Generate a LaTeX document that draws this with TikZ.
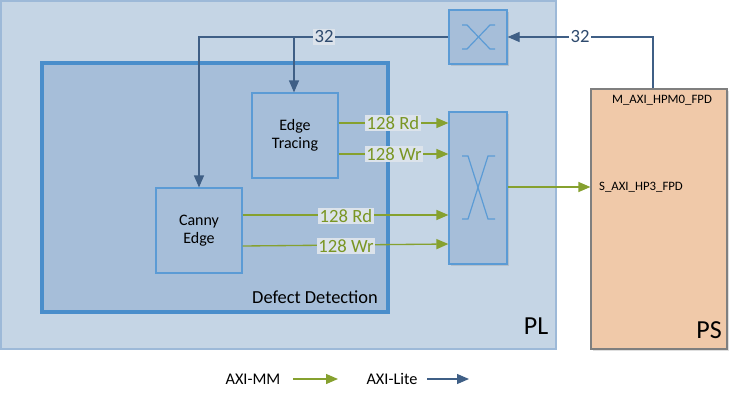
\documentclass[tikz,border=0pt]{standalone}
\usepackage{fontspec}
\setmainfont{Carlito}
\usetikzlibrary{arrows.meta,shadows}
\definecolor{plfill}{HTML}{C5D5E5}
\definecolor{plline}{HTML}{9DB9D8}
\definecolor{infill}{HTML}{A6BED9}
\definecolor{ddline}{HTML}{4A8ECB}
\definecolor{boxline}{HTML}{5B9BD5}
\definecolor{mmgreen}{HTML}{86A12F}
\definecolor{mmtext}{HTML}{7A9624}
\definecolor{litecol}{HTML}{3F5F86}
\definecolor{litetext}{HTML}{2E4A6E}
\definecolor{psfill}{HTML}{F0C9A9}
\definecolor{psline}{HTML}{7F7F7F}
\definecolor{lblbg}{HTML}{DCE3EB}
\tikzset{
  px/.style={font=\fontsize{#1}{1.2*#1}\selectfont},
  shd/.style={drop shadow={opacity=0.25,shadow xshift=1.2pt,shadow yshift=-1.2pt}},
  blk/.style={draw=boxline, line width=0.9pt, fill=infill, inner sep=0pt, align=center, font=\fontsize{12pt}{13.5pt}\selectfont},
  swbox/.style={draw=boxline, line width=0.9pt, fill=infill, inner sep=0pt, shd},
  xsym/.style={draw=boxline, line width=0.9pt},
  mm/.style={draw=mmgreen, line width=1pt, -{Triangle[length=9pt,width=7.5pt]}},
  lite/.style={draw=litecol, line width=0.9pt, -{Triangle[length=9pt,width=7.5pt]}},
  mmlbl/.style={fill=lblbg, text=mmtext, inner sep=1.2pt, font=\fontsize{14pt}{15pt}\selectfont},
  litelbl/.style={fill=lblbg, text=litetext, inner sep=1.2pt, font=\fontsize{14pt}{15pt}\selectfont},
  sz/.style 2 args={minimum width=#1*0.75pt, minimum height=#2*0.75pt},
}
\begin{document}
\begin{tikzpicture}[x=0.75pt,y=-0.75pt]
\useasboundingbox (0,0) rectangle (736,400);
% PL
\node[draw=plline, fill=plfill, line width=0.8pt, sz={555}{348}] (pl) at (278.5,175) {};
\node[font=\fontsize{19.5pt}{21pt}\selectfont] (pltxt) at (536,326) {PL};
% PS
\node[draw=psline, fill=psfill, line width=0.9pt, sz={136}{260}, shd] (ps) at (659,219) {};
\node[font=\fontsize{19.5pt}{21pt}\selectfont] (pstxt) at (709,330) {PS};
\node[font=\fontsize{9.6pt}{11pt}\selectfont] (hpm) at (662,100) {M\_AXI\_HPM0\_FPD};
\node[font=\fontsize{9.6pt}{11pt}\selectfont] (hp3) at (641,187) {S\_AXI\_HP3\_FPD};
% Defect detection
\node[draw=ddline, fill=infill, line width=2.3pt, sz={346}{249}, shd] (dd) at (215,187.5) {};
\node[font=\fontsize{13.8pt}{15pt}\selectfont] (ddtxt) at (315,297) {Defect Detection};
% blocks
\node[blk, sz={86}{85}] (et) at (295,135.5) {Edge\\Tracing};
\node[blk, sz={86}{85}] (ce) at (199,230.5) {Canny\\Edge};
% switches
\node[swbox, sz={58}{54}] (sw1) at (478,37) {};
\draw[xsym] (462,25) -- (467,25) -- (490,49) -- (495,49);
\draw[xsym] (462,49) -- (467,49) -- (490,25) -- (495,25);
\node[swbox, sz={58}{152}] (sw2) at (478,188) {};
\draw[xsym] (462,156) -- (468,156) -- (488,219) -- (495,219);
\draw[xsym] (462,219) -- (468,219) -- (488,156) -- (495,156);
% AXI-Lite connections
\coordinate (pscorner) at (653,37);
\draw[lite] (ps.north -| pscorner) -- (pscorner) -- (sw1.east);
\node[fill=white, text=litetext, inner sep=1.2pt, font=\fontsize{14pt}{15pt}\selectfont] (l32a) at (580,37) {32};
\coordinate (cecorner) at (199,37);
\coordinate (etbranch) at (294,37);
\draw[lite] (sw1.west) -- (cecorner) -- (ce.north);
\draw[lite] (etbranch) -- (et.north -| etbranch);
\node[litelbl] (l32b) at (324,37) {32};
% AXI-MM connections
\draw[mm] (et.east |- 0,123) -- (sw2.west |- 0,123);
\node[mmlbl] (l1) at (393,123) {128 Rd};
\draw[mm] (et.east |- 0,154) -- (sw2.west |- 0,154);
\node[mmlbl] (l2) at (394,154) {128 Wr};
\draw[mm] (ce.east |- 0,215) -- (sw2.west |- 0,215);
\node[mmlbl] (l3) at (346,216) {128 Rd};
\draw[mm] (ce.east |- 0,246) -- (sw2.west |- 0,244);
\node[mmlbl] (l4) at (346,246) {128 Wr};
\draw[mm] (sw2.east |- 0,187) -- (ps.west |- 0,187);
% legend
\node[font=\fontsize{12.2pt}{14pt}\selectfont] (lmm) at (253,379) {AXI-MM};
\coordinate (lmma) at (293,379);
\coordinate (lmmb) at (338,379);
\draw[mm] (lmma) -- (lmmb);
\node[font=\fontsize{12.2pt}{14pt}\selectfont] (llite) at (392,379) {AXI-Lite};
\coordinate (llitea) at (427,379);
\coordinate (lliteb) at (469,379);
\draw[lite] (llitea) -- (lliteb);
\end{tikzpicture}
\end{document}
